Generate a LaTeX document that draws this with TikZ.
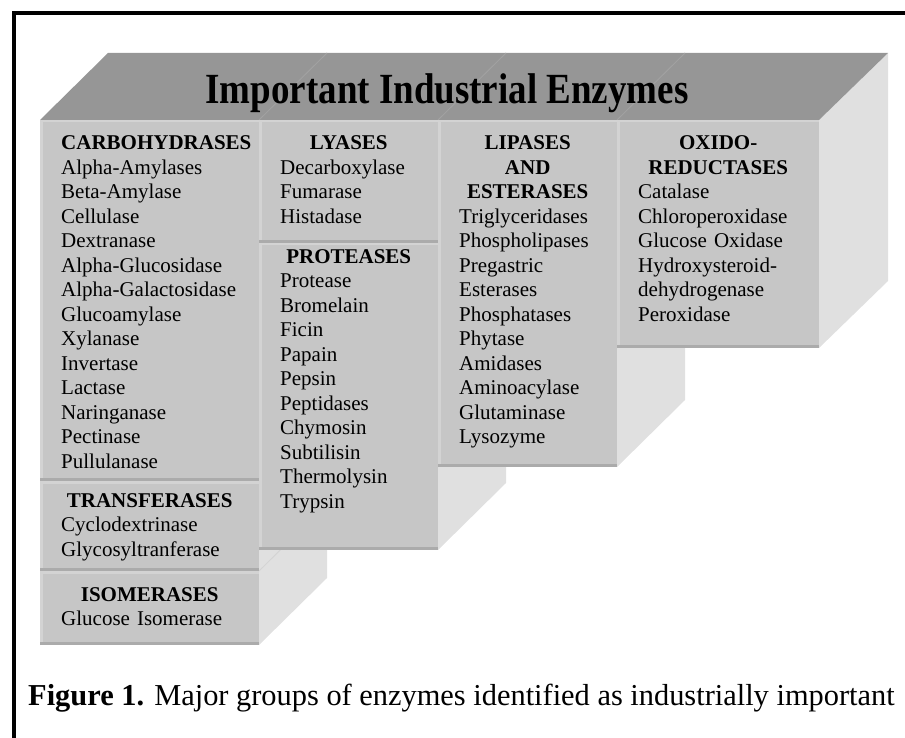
\documentclass[tikz,border=0pt]{standalone}
\usepackage{fontspec}
\setmainfont{Liberation Serif}
\definecolor{topc}{HTML}{969696}
\definecolor{frontc}{HTML}{C6C6C6}
\definecolor{sidec}{HTML}{E0E0E0}
\definecolor{lightedge}{HTML}{D3D3D3}
\definecolor{darkedge}{HTML}{ABABAB}
\definecolor{faintline}{HTML}{A3A3A3}
\newcommand\secbox[4]{%
  \fill[frontc] (#1,#2) rectangle (#3,#4);
  \draw[lightedge, line width=2.5pt] (#1+1.25,#4) -- (#1+1.25,#2+1.25) -- (#3,#2+1.25);
  \draw[darkedge, line width=3pt] (#1,#4-1.5) -- (#3,#4-1.5);
}
\newcommand\hdr[1]{\makebox[\linewidth][c]{\textbf{#1}}}
\tikzset{
  sideface/.style={fill=sidec},
  topface/.style={fill=topc},
  body/.style={anchor=base west, inner sep=0pt, align=left, font=\fontsize{21}{24.5}\selectfont},
  frame/.style={line width=4pt, line join=miter},
}
\begin{document}
\begin{tikzpicture}[x=1pt, y=-1pt]
\useasboundingbox (0,0) rectangle (905,738);
% side faces
\fill[sideface] (259,120) -- (327,53) -- (327,578) -- (259,645) -- cycle;
\fill[sideface] (438,120) -- (506,53) -- (506,483) -- (438,550) -- cycle;
\fill[sideface] (617,120) -- (685,53) -- (685,400) -- (617,467) -- cycle;
\fill[sideface] (819,120) -- (888,53) -- (888,281) -- (819,348) -- cycle;
\draw[lightedge, line width=0.8pt] (259,571) -- (327,504);
% top face
\fill[topface] (40,120) -- (108,53) -- (888,53) -- (819,120) -- cycle;
\draw[faintline, line width=0.8pt] (259,120) -- (327,53);
\draw[faintline, line width=0.8pt] (438,120) -- (506,53);
\draw[faintline, line width=0.8pt] (617,120) -- (685,53);
% front faces
\secbox{40}{120}{259}{481}
\secbox{40}{481}{259}{571}
\secbox{40}{571}{259}{645}
\secbox{259}{120}{438}{243}
\secbox{259}{243}{438}{550}
\secbox{438}{120}{617}{467}
\secbox{617}{120}{819}{348}
% title
\node[anchor=base, inner sep=0pt, font=\fontsize{43}{50}\selectfont\bfseries] (title) at (447,104)
  {\scalebox{0.86}[1]{Important Industrial Enzymes}};
% texts
\node[body, text width=177pt] (carb) at (61,150)
  {\textbf{CARBOHYDRASES}\\Alpha-Amylases\\Beta-Amylase\\Cellulase\\Dextranase\\Alpha-Glucosidase\\Alpha-Galactosidase\\Glucoamylase\\Xylanase\\Invertase\\Lactase\\Naringanase\\Pectinase\\Pullulanase};
\node[body, text width=177pt] (transf) at (61,507)
  {\hdr{TRANSFERASES}\\Cyclodextrinase\\Glycosyltranferase};
\node[body, text width=177pt] (isom) at (61,601)
  {\hdr{ISOMERASES}\\Glucose Isomerase};
\node[body, text width=137pt] (lyas) at (280,150)
  {\hdr{LYASES}\\Decarboxylase\\Fumarase\\Histadase};
\node[body, text width=137pt] (prot) at (280,263)
  {\hdr{PROTEASES}\\Protease\\Bromelain\\Ficin\\Papain\\Pepsin\\Peptidases\\Chymosin\\Subtilisin\\Thermolysin\\Trypsin};
\node[body, text width=137pt] (lip) at (459,150)
  {\hdr{LIPASES}\\\hdr{AND}\\\hdr{ESTERASES}\\Triglyceridases\\Phospholipases\\Pregastric\\Esterases\\Phosphatases\\Phytase\\Amidases\\Aminoacylase\\Glutaminase\\Lysozyme};
\node[body, text width=160pt] (oxid) at (638,150)
  {\hdr{OXIDO-}\\\hdr{REDUCTASES}\\Catalase\\Chloroperoxidase\\Glucose Oxidase\\Hydroxysteroid-\\dehydrogenase\\Peroxidase};
% caption
\node[anchor=base west, inner sep=0pt, font=\fontsize{30.4}{36}\selectfont] (cap) at (28,705)
  {\textbf{Figure 1.} Major groups of enzymes identified as industrially important};
% frame
\draw[frame] (13.5,738) -- (13.5,13) -- (905,13);
\end{tikzpicture}
\end{document}
